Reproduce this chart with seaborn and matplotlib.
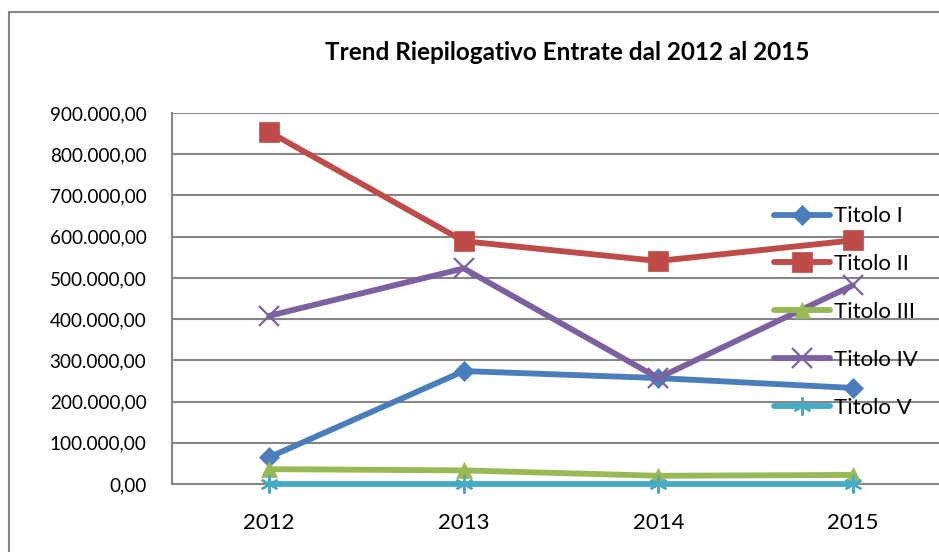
import numpy as np
import pandas as pd
import matplotlib.pyplot as plt
import seaborn as sns
from matplotlib.patches import Rectangle
from matplotlib.ticker import FuncFormatter, FixedLocator

sns.set_style('white')
plt.rcParams['font.family'] = ['Lato', 'DejaVu Sans']
plt.rcParams['text.color'] = 'black'
plt.rcParams['xtick.labelcolor'] = 'black'
plt.rcParams['ytick.labelcolor'] = 'black'

anni = ['2012', '2013', '2014', '2015']
titolo_1 = [65000, 274000, 257000, 233000]
titolo_2 = [854000, 589000, 541000, 591000]
titolo_3 = [36000, 33000, 20000, 22000]
titolo_4 = [408000, 523000, 257000, 482000]
titolo_5 = [0, 0, 0, 0]

serie = ['Titolo I', 'Titolo II', 'Titolo III', 'Titolo IV', 'Titolo V']
valori = [titolo_1, titolo_2, titolo_3, titolo_4, titolo_5]
colori = ['#4A7EBB', '#BE4B48', '#98B954', '#7D60A0', '#46AAC5']
marker = ['D', 's', '^', 'x', (6, 2, 0)]
msize = [10.5, 14, 11.5, 14, 13]

fig = plt.figure(figsize=(9.39, 5.52), dpi=100)
ax = fig.add_axes([172/939, 1-484/552, 778/939, 371/552])

grigio = '#868686'
for i, nome in enumerate(serie):
    df = pd.DataFrame({'x': np.arange(len(anni)), 'val': valori[i]})
    linea = marker[i] in ('x', (6, 2, 0))
    sns.lineplot(data=df, x='x', y='val', ax=ax, color=colori[i], label=nome,
                 marker=marker[i], markersize=msize[i], linewidth=4.2,
                 markeredgecolor=colori[i], markerfacecolor=colori[i],
                 markeredgewidth=1.6 if linea else 0.5, zorder=3, clip_on=False)

ax.set_xlim(-0.5, 3.5)
ax.set_ylim(0, 900000)
ax.set_yticks(np.arange(0, 900001, 100000))
ax.yaxis.set_major_formatter(FuncFormatter(
    lambda v, p: f'{v:,.2f}'.replace(',', '#').replace('.', ',').replace('#', '.')))
ax.set_xticks(range(len(anni)))
ax.set_xticklabels(anni)
ax.xaxis.set_minor_locator(FixedLocator([-0.5, 0.5, 1.5, 2.5, 3.5]))
ax.tick_params(axis='x', which='major', length=0, pad=21, labelsize=16)
ax.tick_params(axis='x', which='minor', length=6, width=1.5, color=grigio, direction='out')
ax.tick_params(axis='y', length=6.5, width=1.5, color=grigio, direction='out', pad=12, labelsize=13.6)
ax.set_xlabel('')
ax.set_ylabel('')
ax.grid(axis='y', color=grigio, linewidth=1.5)
ax.grid(axis='x', visible=False)
ax.set_axisbelow(True)
for s in ['top', 'right']:
    ax.spines[s].set_visible(False)
for s in ['left', 'bottom']:
    ax.spines[s].set_color(grigio)
    ax.spines[s].set_linewidth(1.5)
ax.spines['bottom'].set_zorder(2)

ax.legend(loc='center left', bbox_to_anchor=(774/939, 1-312/552),
          bbox_transform=fig.transFigure, frameon=False, fontsize=16,
          borderpad=0, borderaxespad=0, labelspacing=1.25,
          handlelength=2.5, handletextpad=0.18)

fig.text(567/939, 1-52/552, 'Trend Riepilogativo Entrate dal 2012 al 2015',
         ha='center', va='center', fontsize=17.5, fontweight='bold')

fig.patches.append(Rectangle((9/939, -0.1), 2, 1.1-12/552, transform=fig.transFigure,
                             fill=False, edgecolor=grigio, linewidth=1.5))

fig.savefig('out.png', dpi=100)
